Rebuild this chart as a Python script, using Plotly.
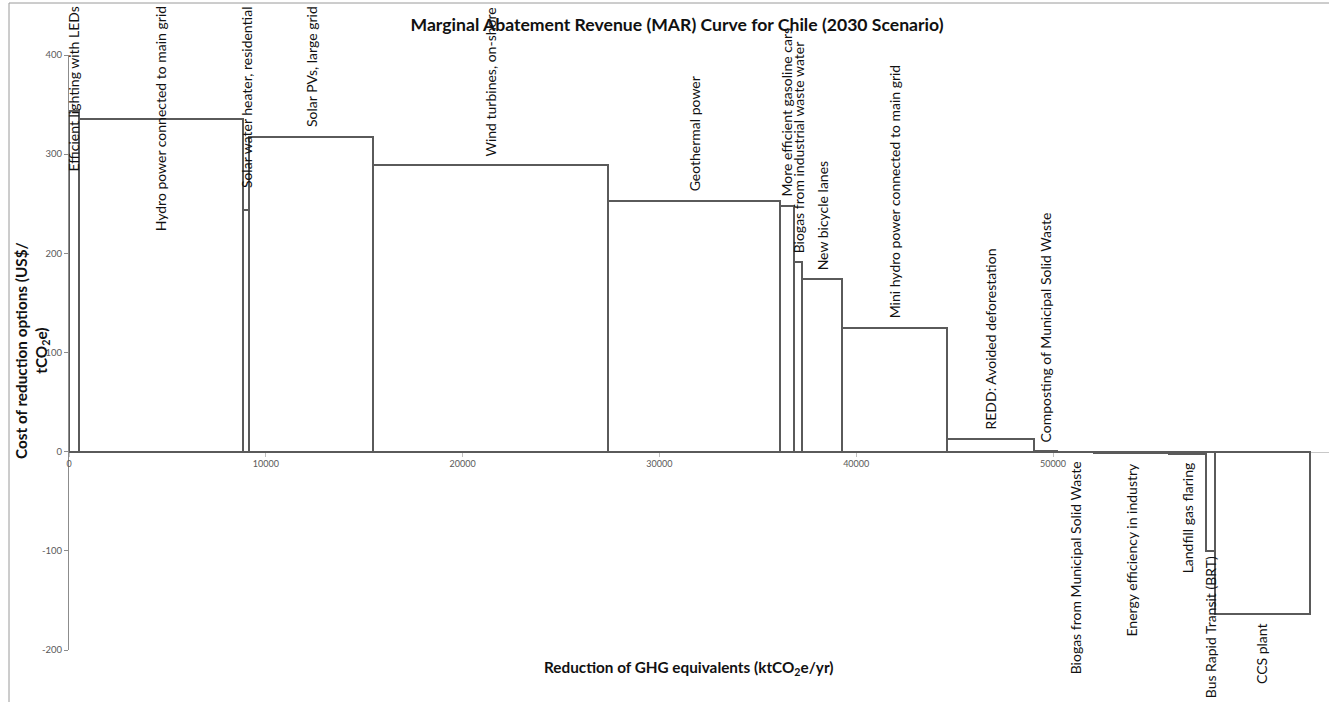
import numpy as np
import plotly.graph_objects as go

# ---------------- data ----------------
options = [
    "Efficient lighting with LEDs",
    "Hydro power connected to main grid",
    "Solar water heater, residential",
    "Solar PVs, large grid",
    "Wind turbines, on-shore",
    "Geothermal power",
    "More efficient gasoline cars",
    "Biogas from industrial waste water",
    "New bicycle lanes",
    "Mini hydro power connected to main grid",
    "REDD: Avoided deforestation",
    "Composting of Municipal Solid Waste",
    "Biogas from Municipal Solid Waste",
    "Energy efficiency in industry",
    "Landfill gas flaring",
    "Bus Rapid Transit (BRT)",
    "CCS plant",
]
# abatement potential (ktCO2e/yr) = bar widths
reduction = [500, 8330, 340, 6300, 11940, 8700, 720, 430, 2030, 5320, 4400,
             1200, 1880, 3790, 1880, 460, 4820]
# cost (US$/tCO2e) = bar heights
cost = [344, 335, 244, 317, 289, 253, 248, 191, 174, 125, 13,
        0.5, -0.5, -1.5, -2, -100, -164]

y_tick_vals = [-200, -100, 0, 100, 200, 300, 400]
y_tick_text = ["-200", "-100", "0", "100", "200", "300", "400"]
x_tick_vals = [0, 10000, 20000, 30000, 40000, 50000, 60000]
x_tick_text = ["0", "10000", "20000", "30000", "40000", "50000", "60000"]

title_text = "Marginal Abatement Revenue (MAR) Curve for Chile (2030 Scenario)"
x_title = "Reduction of GHG equivalents (ktCO<sub>2</sub>e/yr)"
y_title = "Cost of reduction options (US$/<br>tCO<sub>2</sub>e)"

# ---------------- layout constants ----------------
W, H = 1329, 702
ML, MR, MT, MB = 69, 0, 55, 52
PW, PH = W - ML - MR, H - MT - MB
Y_MIN, Y_MAX = -200, 400
PX_PER_10K = 196.8
X_MAX = PW / PX_PER_10K * 10000

FONT = "Lato"
LINE_COL = "#5a5a5a"
LABEL_SIZE = 14
CHAR_PX = 6.6
GAP = 7
TOP_LIMIT = 4
BOTTOM_LIMIT = 700

w = np.array(reduction, dtype=float)
starts = np.concatenate([[0], np.cumsum(w)[:-1]])
centers = starts + w / 2

fig = go.Figure()
fig.add_trace(go.Bar(
    x=centers, y=cost, width=w,
    marker=dict(color="white", line=dict(color=LINE_COL, width=2)),
    hoverinfo="skip", showlegend=False,
))


def y_to_px(v):
    return MT + (Y_MAX - v) / (Y_MAX - Y_MIN) * PH


def px_to_paper(p):
    return (H - MB - p) / PH


annotations = []
for name, xc, v in zip(options, centers, cost):
    L = len(name) * CHAR_PX
    base = dict(x=xc, xref="x", text=name, showarrow=False, textangle=-90,
                xanchor="center",
                font=dict(family=FONT, size=LABEL_SIZE, color="#111111"))
    if v >= 0:
        end_px = y_to_px(v) - GAP
        if end_px - L < TOP_LIMIT:
            base.update(y=px_to_paper(TOP_LIMIT), yref="paper", yanchor="top")
        else:
            base.update(y=v, yref="y", yanchor="bottom", yshift=GAP)
    else:
        start_px = y_to_px(v) + GAP
        if start_px + L > BOTTOM_LIMIT:
            base.update(y=px_to_paper(BOTTOM_LIMIT), yref="paper", yanchor="bottom")
        else:
            base.update(y=v, yref="y", yanchor="top", yshift=-GAP)
    annotations.append(base)

# axis titles
annotations.append(dict(
    text=x_title, x=(689 - ML) / PW, y=px_to_paper(668), xref="paper", yref="paper",
    showarrow=False, xanchor="center", yanchor="middle",
    font=dict(family=FONT, size=15.3, color="#111111", weight="bold")))
annotations.append(dict(
    text=y_title, x=(32 - ML) / PW, y=px_to_paper(351), xref="paper", yref="paper",
    showarrow=False, xanchor="center", yanchor="middle", textangle=-90, align="center",
    font=dict(family=FONT, size=15.3, color="#111111", weight="bold")))

shapes = [
    dict(type="line", xref="paper", yref="paper",
         x0=(9 - ML) / PW, x1=(9 - ML) / PW, y0=px_to_paper(3), y1=px_to_paper(H + 5),
         line=dict(color="#9a9a9a", width=1)),
    dict(type="line", xref="paper", yref="paper",
         x0=(9 - ML) / PW, x1=1.01, y0=px_to_paper(3), y1=px_to_paper(3),
         line=dict(color="#9a9a9a", width=1)),
]

fig.update_layout(
    width=W, height=H, autosize=False,
    margin=dict(l=ML, r=MR, t=MT, b=MB, pad=0),
    paper_bgcolor="white", plot_bgcolor="white",
    title=dict(text=title_text, x=(677 - ML) / PW, xref="paper", xanchor="center",
               y=1 - 25 / H, yref="container", yanchor="middle", automargin=False,
               font=dict(family=FONT, size=17.6, color="#111111", weight="bold")),
    annotations=annotations,
    shapes=shapes,
    bargap=0,
    xaxis=dict(range=[0, X_MAX], anchor="free",
               position=(0 - Y_MIN) / (Y_MAX - Y_MIN),
               tickvals=x_tick_vals, ticktext=x_tick_text,
               ticks="outside", ticklen=4, tickcolor="#bfbfbf",
               showline=True, linecolor="#c8c8c8", linewidth=1,
               showgrid=False, zeroline=False, layer="below traces",
               automargin=False,
               tickfont=dict(family=FONT, size=9, color="#595959")),
    yaxis=dict(range=[Y_MIN, Y_MAX],
               tickvals=y_tick_vals, ticktext=y_tick_text,
               ticks="outside", ticklen=4, tickcolor="#8c8c8c",
               showline=True, linecolor="#8c8c8c", linewidth=1,
               showgrid=False, zeroline=False, layer="below traces",
               automargin=False,
               tickfont=dict(family=FONT, size=9.5, color="#595959")),
)

fig.write_html("out.html",
               config={"displayModeBar": False},
               post_script="document.body.style.margin='0';document.body.style.overflow='hidden';")
